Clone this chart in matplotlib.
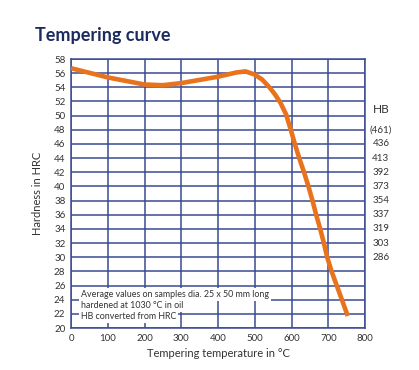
import matplotlib
matplotlib.use('Agg')
import matplotlib.pyplot as plt

plt.rcParams['font.family'] = ['Lato', 'DejaVu Sans']

# tempering curve
temp = [0, 100, 200, 250, 300, 400, 450, 475, 500, 520, 540, 555, 570, 585, 598, 609, 621,
        634, 646, 657, 667, 678, 688, 697, 709, 723, 737, 753]
hrc = [56.7, 55.4, 54.4, 54.3, 54.6, 55.5, 56.1, 56.25, 55.8, 55.1, 54.0, 53.0, 51.8, 50.2, 48.0, 46.0, 44.0,
       42.0, 40.0, 38.0, 36.0, 34.0, 32.0, 30.0, 28.0, 26.0, 24.0, 21.7]

hb_pos = [48, 46, 44, 42, 40, 38, 36, 34, 32, 30]
hb_labels = ['(461)', '436', '413', '392', '373', '354', '337', '319', '303', '286']

note = ['Average values on samples dia. 25 x 50 mm long',
        'hardened at 1030 °C in oil',
        'HB converted from HRC']
note_y = [24.7, 23.2, 21.6]

navy = '#3a4c92'
orange = '#e8731c'

fig = plt.figure(figsize=(4.19, 3.70), dpi=100)
ax = fig.add_axes([0.1695, 0.1135, 0.7017, 0.727])

ax.set_xlim(0, 800)
ax.set_ylim(20, 58)
ax.set_xticks(range(0, 801, 100))
ax.set_yticks(range(20, 59, 2))
ax.grid(True, color=navy, linewidth=1.1)
ax.set_axisbelow(True)
for s in ax.spines.values():
    s.set_color(navy)
    s.set_linewidth(1.1)
ax.tick_params(length=0, labelsize=7, labelcolor='#333333', pad=4)

ax.plot(temp, hrc, color=orange, linewidth=3.3, solid_capstyle='butt',
        solid_joinstyle='round', zorder=5)

for t, yy in zip(note, note_y):
    ax.text(26, yy, t, fontsize=6.4, color='#333333', va='center', ha='left', zorder=4,
            bbox=dict(facecolor='white', edgecolor='none', pad=1.4))

ax.text(843, 50.8, 'HB', fontsize=8.5, color='#333333', ha='center', va='center', clip_on=False)
for p, l in zip(hb_pos, hb_labels):
    ax.text(843, p, l, fontsize=7, color='#333333', ha='center', va='center', clip_on=False)

ax.set_xlabel('Tempering temperature in °C', fontsize=8, color='#333333', labelpad=4)
ax.set_ylabel('Hardness in HRC', fontsize=8, color='#333333', labelpad=8)

fig.text(35 / 419, 1 - 35 / 370, 'Tempering curve', fontsize=13, color='#1c2b5e',
         ha='left', va='center', fontweight='bold')

fig.savefig('out.png', dpi=100)
